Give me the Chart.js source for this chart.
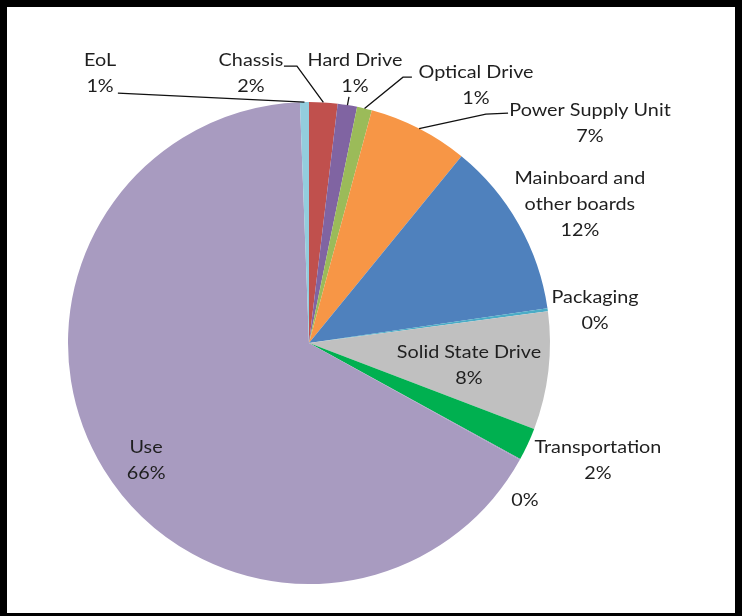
<!DOCTYPE html>
<html>
<head>
<meta charset="utf-8">
<script src="https://cdn.jsdelivr.net/npm/chart.js@4"></script>
<style>
  html, body { margin: 0; padding: 0; background: #fff; }
  #frame {
    width: 742px; height: 616px; box-sizing: border-box;
    border-style: solid; border-color: #000;
    border-width: 7px 7px 3px 7px;
    background: #fff;
  }
  #wrap { position: relative; width: 728px; height: 606px; }
</style>
</head>
<body>
<div id="frame"><div id="wrap"><canvas id="c"></canvas></div></div>
<script>
// ---- data ----
const categories = ["Chassis", "Hard Drive", "Optical Drive", "Power Supply Unit",
  "Mainboard and\nother boards", "Packaging", "Solid State Drive", "Transportation",
  "", "Use", "EoL"];
const shares = [1.9, 1.3, 1.0, 6.7, 11.8, 0.2, 7.9, 2.2, 0.05, 66.35, 0.6];
const sliceColors = ["#C0504D", "#8064A2", "#9BBB59", "#F79646", "#4F81BD",
  "#4BACC6", "#C0C0C0", "#00B050", "#9E8FBD", "#A89BC0", "#93CDDD"];

// label anchors (text-block centre) relative to pie centre, in radius units
const labelAnchors = [
  [-0.241, -1.120], [0.191, -1.120], [0.693, -1.071], [1.166, -0.913],
  [1.124, -0.577], [1.187, -0.137], [0.664, 0.091], [1.199, 0.485],
  [0.896, 0.651], [-0.676, 0.485], [-0.867, -1.120]
];
// leader line waypoints (label side first), radius units; ends at slice outer mid-point
const leaders = [
  [[-0.104, -1.149], [-0.050, -1.149]],
  [[0.166, -1.021]],
  [[0.427, -1.103], [0.390, -1.103]],
  [[0.826, -0.954], [0.734, -0.950]],
  null, null, null, null, null, null,
  [[-0.793, -1.037]]
];

const FONT = '18px Lato, "Open Sans", sans-serif';
const X_SCALE = 1.1;
const LINE_H = 26;

const labelPlugin = {
  id: 'excelLabels',
  afterDatasetsDraw(chart) {
    const ctx = chart.ctx;
    const meta = chart.getDatasetMeta(0);
    const total = shares.reduce((a, b) => a + b, 0);
    ctx.save();
    meta.data.forEach((arc, i) => {
      const cx = arc.x, cy = arc.y, r = arc.outerRadius;
      const ld = leaders[i];
      if (ld) {
        const mid = (arc.startAngle + arc.endAngle) / 2;
        const ex = cx + Math.cos(mid) * r, ey = cy + Math.sin(mid) * r;
        ctx.beginPath();
        ctx.strokeStyle = '#111';
        ctx.lineWidth = 1.3;
        ld.forEach((p, k) => {
          const px = cx + p[0] * r, py = cy + p[1] * r;
          if (k === 0) ctx.moveTo(px, py); else ctx.lineTo(px, py);
        });
        ctx.lineTo(ex, ey);
        ctx.stroke();
      }
      const pct = Math.round(shares[i] / total * 100) + '%';
      const lines = categories[i] ? categories[i].split('\n').concat([pct]) : [pct];
      const ax = cx + labelAnchors[i][0] * r, ay = cy + labelAnchors[i][1] * r;
      const y0 = ay - (lines.length - 1) * LINE_H / 2;
      lines.forEach((t, k) => {
        ctx.save();
        ctx.translate(ax, y0 + k * LINE_H);
        ctx.scale(X_SCALE, 1);
        ctx.font = FONT;
        ctx.fillStyle = '#1f1f1f';
        ctx.textAlign = 'center';
        ctx.textBaseline = 'middle';
        ctx.fillText(t, 0, 0);
        ctx.restore();
      });
    });
    ctx.restore();
  }
};

new Chart(document.getElementById('c'), {
  type: 'pie',
  data: {
    labels: categories,
    datasets: [{ data: shares, backgroundColor: sliceColors, borderWidth: 0 }]
  },
  options: {
    responsive: true,
    maintainAspectRatio: false,
    animation: false,
    layout: { padding: { left: 61, top: 95, right: 185, bottom: 29 } },
    plugins: { legend: { display: false }, tooltip: { enabled: false } }
  },
  plugins: [labelPlugin]
});
</script>
</body>
</html>
